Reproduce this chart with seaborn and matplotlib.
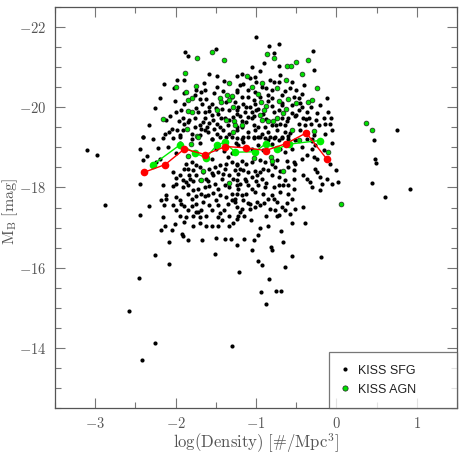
import matplotlib
matplotlib.use("Agg")
import matplotlib.pyplot as plt
from matplotlib.ticker import MultipleLocator, FuncFormatter
from matplotlib.lines import Line2D
import seaborn as sns
import pandas as pd

# KISS star-forming galaxies: (log density, M_B)
sfg_points = [
    # outliers, left and bottom
    (-3.10, -18.94), (-2.98, -18.80), (-2.88, -17.57), (-2.58, -14.92), (-2.45, -15.74),
    (-2.42, -13.69), (-2.26, -14.12), (-2.26, -16.31), (-2.08, -16.08), (-1.30, -14.04),
    # outliers, right
    (0.75, -19.44), (0.91, -17.96), (0.60, -17.77), (0.44, -18.12), (0.47, -19.18),
    (0.48, -18.70), (0.49, -18.61), (0.00, -18.43), (0.02, -18.13), (-0.19, -16.26),
    # upper left part
    (-1.88, -21.37), (-1.84, -21.27), (-1.50, -21.44), (-1.58, -20.84), (-1.48, -20.79),
    (-1.98, -20.68), (-1.90, -20.68), (-2.15, -20.57), (-2.02, -20.49), (-1.74, -20.44),
    (-1.69, -20.38), (-1.63, -20.42), (-1.48, -20.51), (-1.41, -20.41), (-1.24, -20.39),
    (-2.20, -20.22), (-1.76, -20.30), (-1.70, -20.21), (-2.01, -20.15), (-1.90, -20.08),
    (-2.26, -19.98), (-1.67, -20.08), (-1.59, -20.00), (-1.55, -20.09), (-1.75, -19.99),
    (-1.93, -19.93), (-1.99, -19.88), (-1.72, -19.88), (-1.64, -19.88), (-1.50, -19.99),
    (-2.07, -19.79), (-1.91, -19.74), (-1.83, -19.69), (-1.76, -19.74), (-1.63, -19.74),
    (-1.55, -19.80), (-2.12, -19.68), (-1.96, -19.65), (-1.89, -19.59), (-1.53, -19.69),
    (-1.49, -19.59), (-1.70, -19.55), (-2.33, -19.55), (-2.04, -19.47), (-2.08, -19.38),
    (-1.98, -19.43), (-1.91, -19.43), (-1.76, -19.51), (-1.64, -19.43), (-1.61, -19.51),
    (-2.13, -19.34), (-1.95, -19.30), (-1.80, -19.34), (-1.70, -19.30), (-2.40, -19.26),
    (-2.28, -19.22), (-2.03, -19.24), (-1.49, -19.34), (-1.41, -19.43), (-1.37, -19.26),
    (-1.33, -19.34), (-1.24, -19.51), (-1.47, -19.84), (-1.33, -19.93), (-1.28, -19.76),
    (-1.38, -19.74), (-1.33, -19.68), (-1.24, -19.84), (-1.22, -20.01), (-1.30, -20.26),
    (-1.37, -20.13), (-1.26, -20.13), (-1.58, -19.61), (-1.43, -19.72), (-1.45, -19.51),
    (-1.30, -19.26), (-1.55, -19.22), (-1.80, -19.22), (-1.66, -19.63), (-1.60, -19.38),
    (-1.85, -19.62), (-1.68, -19.45), (-1.58, -19.90), (-1.52, -19.45), (-1.42, -19.95),
    (-1.35, -19.55), (-1.90, -20.35), (-1.62, -20.20), (-1.52, -20.35), (-1.40, -20.65),
    (-1.65, -20.60),
    # upper right part
    (-1.00, -21.74), (-0.84, -21.53), (-0.72, -21.58), (-0.29, -21.40), (-0.71, -21.03),
    (-0.28, -20.93), (-1.23, -20.78), (-1.17, -20.82), (-1.08, -20.72), (-1.01, -20.76),
    (-1.16, -20.59), (-1.00, -20.63), (-0.83, -20.68), (-0.78, -20.63), (-0.71, -20.63),
    (-1.24, -20.44), (-1.10, -20.44), (-1.01, -20.38), (-0.87, -20.47), (-0.80, -20.43),
    (-0.58, -20.47), (-0.50, -20.43), (-0.64, -20.41), (-0.43, -20.34), (-0.12, -20.24),
    (-1.18, -20.26), (-1.10, -20.26), (-1.03, -20.18), (-0.85, -20.30), (-0.80, -20.22),
    (-0.68, -20.30), (-0.53, -20.26), (-0.47, -20.22), (-1.16, -20.09), (-1.08, -20.01),
    (-1.01, -20.08), (-0.80, -20.03), (-0.68, -20.05), (-0.55, -20.05), (-0.43, -20.01),
    (-0.20, -20.05), (-1.23, -19.93), (-1.14, -19.88), (-1.05, -19.88), (-1.00, -19.94),
    (-0.78, -19.88), (-0.72, -19.93), (-0.55, -19.86), (-0.47, -19.93), (-0.37, -19.88),
    (-0.24, -19.86), (-0.10, -19.88), (-1.20, -19.78), (-1.10, -19.76), (-1.02, -19.78),
    (-0.68, -19.72), (-0.60, -19.74), (-0.51, -19.78), (-0.41, -19.72), (-0.34, -19.74),
    (-0.16, -19.72), (-0.07, -19.74), (-0.14, -19.59), (-0.25, -19.69), (-1.12, -19.63),
    (-1.03, -19.55), (-0.97, -19.51), (-0.89, -19.51), (-0.80, -19.55), (-0.70, -19.59),
    (-0.64, -19.55), (-0.47, -19.59), (-0.39, -19.55), (-0.31, -19.59), (-0.08, -19.57),
    (-1.24, -19.43), (-1.10, -19.38), (-1.01, -19.43), (-0.93, -19.34), (-0.85, -19.38),
    (-0.74, -19.43), (-0.64, -19.38), (-0.45, -19.43), (-0.37, -19.38), (-0.14, -19.34),
    (-0.05, -19.43), (-1.16, -19.26), (-1.03, -19.26), (-0.89, -19.24), (-0.76, -19.26),
    (-0.68, -19.24), (-0.60, -19.28), (-0.30, -19.22), (-0.95, -20.26), (-0.91, -19.84),
    (-0.74, -19.72), (-1.18, -19.51), (-0.97, -19.26), (-0.83, -19.26),
    (-1.18, -19.65), (-1.12, -20.00), (-1.05, -19.72), (-0.98, -19.95), (-0.88, -19.70),
    (-0.85, -20.15), (-0.75, -19.55), (-0.68, -20.10), (-0.62, -19.65), (-0.58, -19.35),
    (-0.50, -19.80), (-0.45, -20.10), (-0.38, -19.70), (-0.32, -20.00), (-0.28, -19.30),
    (-0.22, -19.55), (-1.20, -20.55), (-0.92, -20.50), (-0.70, -20.80), (-0.55, -20.62),
    (-0.40, -20.55), (-0.95, -20.90), (-1.05, -21.00), (-0.78, -21.35), (-0.90, -21.10),
    # lower left part
    (-2.40, -19.26), (-2.16, -19.23), (-1.95, -19.26), (-2.44, -18.95), (-2.22, -18.98),
    (-2.19, -18.70), (-2.41, -18.68), (-2.36, -18.78), (-2.24, -18.63), (-1.87, -18.59),
    (-1.80, -18.63), (-1.74, -18.57), (-1.85, -18.47), (-1.78, -18.43), (-1.70, -18.51),
    (-1.83, -18.32), (-1.74, -18.32), (-1.66, -18.38), (-1.58, -18.47), (-1.51, -18.51),
    (-1.45, -18.55), (-1.37, -18.59), (-1.30, -18.63), (-1.24, -18.59), (-2.03, -18.38),
    (-1.99, -18.23), (-1.95, -18.32), (-1.91, -18.18), (-1.87, -18.13), (-1.78, -18.15),
    (-1.70, -18.18), (-1.62, -18.22), (-1.53, -18.30), (-1.47, -18.38), (-1.41, -18.34),
    (-1.33, -18.30), (-1.26, -18.43), (-2.44, -18.09), (-2.16, -18.05), (-2.03, -18.03),
    (-1.99, -18.09), (-1.91, -18.01), (-1.85, -18.05), (-1.78, -17.93), (-1.72, -17.97),
    (-1.64, -18.01), (-1.58, -18.03), (-1.51, -18.09), (-1.47, -17.97), (-1.39, -18.05),
    (-1.33, -18.01), (-1.24, -18.05), (-2.12, -17.82), (-2.18, -17.68), (-2.12, -17.72),
    (-1.99, -17.76), (-1.85, -17.84), (-1.80, -17.72), (-1.74, -17.78), (-1.68, -17.84),
    (-1.60, -17.82), (-1.53, -17.87), (-1.45, -17.80), (-1.37, -17.76), (-1.30, -17.84),
    (-1.26, -17.72), (-2.33, -17.53), (-2.14, -17.55), (-2.03, -17.55), (-1.93, -17.59),
    (-1.89, -17.53), (-1.80, -17.53), (-1.74, -17.59), (-1.66, -17.63), (-1.58, -17.55),
    (-1.47, -17.55), (-1.35, -17.59), (-1.24, -17.51), (-1.99, -17.43), (-1.85, -17.43),
    (-1.74, -17.38), (-1.68, -17.43), (-1.55, -17.43), (-1.45, -17.37), (-2.44, -17.32),
    (-1.95, -17.30), (-1.87, -17.26), (-1.78, -17.30), (-1.70, -17.26), (-1.62, -17.30),
    (-1.47, -17.26), (-1.33, -17.30), (-1.22, -17.30), (-2.16, -17.26), (-2.13, -17.05),
    (-2.01, -17.09), (-1.89, -17.15), (-1.78, -17.05), (-1.70, -17.12), (-1.62, -17.05),
    (-1.55, -17.05), (-1.47, -17.05), (-1.33, -17.05), (-1.28, -17.12),
    (-2.10, -19.00), (-2.00, -18.85), (-1.95, -19.10), (-1.70, -19.10), (-1.55, -19.20),
    (-1.50, -18.95), (-1.45, -19.25), (-1.40, -18.90), (-1.30, -18.85), (-1.25, -19.10),
    (-1.55, -18.70), (-1.35, -18.75), (-1.90, -18.45), (-1.82, -18.20), (-1.60, -18.15),
    (-1.55, -18.35), (-1.42, -18.20), (-1.38, -18.45), (-1.28, -18.20), (-1.94, -17.68),
    (-1.72, -17.40), (-1.64, -17.78), (-1.50, -17.68), (-1.40, -17.45), (-1.30, -17.68),
    (-1.42, -17.18),
    # lower right part
    (-1.24, -19.23), (-1.18, -19.20), (-1.10, -19.26), (-1.03, -19.23), (-0.95, -19.26),
    (-0.85, -19.18), (-0.78, -19.23), (-0.72, -19.18), (-0.68, -19.26), (-0.60, -19.22),
    (-0.51, -19.18), (-0.37, -19.22), (-0.30, -19.15), (-0.16, -18.93), (-0.05, -19.12),
    (-1.24, -18.55), (-1.18, -18.65), (-1.12, -18.59), (-1.05, -18.63), (-0.95, -18.68),
    (-0.89, -18.63), (-0.80, -18.59), (-0.74, -18.68), (-0.62, -18.65), (-0.53, -18.63),
    (-0.43, -18.72), (-0.37, -18.80), (-0.28, -18.76), (-0.24, -18.72), (-1.22, -18.34),
    (-1.16, -18.43), (-1.10, -18.38), (-1.01, -18.40), (-0.91, -18.47), (-0.85, -18.43),
    (-0.76, -18.51), (-0.60, -18.51), (-0.53, -18.43), (-0.51, -18.59), (-0.41, -18.32),
    (-0.26, -18.47), (-0.24, -18.38), (-0.08, -18.59), (-1.24, -18.18), (-1.14, -18.22),
    (-1.05, -18.26), (-0.99, -18.30), (-0.93, -18.22), (-0.80, -18.30), (-0.72, -18.26),
    (-0.64, -18.18), (-0.53, -18.22), (-0.37, -18.22), (-0.33, -18.13), (-0.20, -18.26),
    (-0.12, -18.22), (-1.22, -17.97), (-1.20, -18.09), (-1.10, -18.05), (-1.05, -17.97),
    (-0.97, -18.05), (-0.89, -18.01), (-0.78, -18.01), (-0.72, -18.05), (-0.60, -18.05),
    (-0.53, -17.97), (-0.30, -18.01), (-0.18, -18.09), (-1.23, -17.84), (-1.18, -17.80),
    (-1.12, -17.84), (-1.01, -17.88), (-0.91, -17.84), (-0.80, -17.80), (-0.78, -17.72),
    (-0.70, -17.88), (-0.60, -17.84), (-0.20, -17.93), (-0.05, -18.09), (-1.26, -17.63),
    (-1.16, -17.68), (-1.08, -17.59), (-0.99, -17.63), (-0.95, -17.55), (-0.85, -17.72),
    (-0.74, -17.63), (-0.68, -17.51), (-0.55, -17.72), (-0.41, -17.51), (-1.18, -17.47),
    (-1.08, -17.47), (-1.01, -17.51), (-0.83, -17.47), (-0.76, -17.43), (-0.72, -17.32),
    (-0.64, -17.43), (-0.58, -17.34), (-0.51, -17.47), (-1.15, -17.30), (-1.23, -17.22),
    (-0.74, -17.30), (-0.55, -17.12), (-0.39, -17.11), (-0.85, -17.05), (-0.95, -16.98),
    (-1.22, -19.05), (-1.16, -19.13), (-1.05, -18.97), (-0.97, -19.05), (-0.91, -18.93),
    (-0.80, -19.09), (-0.70, -18.97), (-0.64, -18.88), (-0.55, -18.97), (-0.43, -19.01),
    (-0.30, -18.97), (-0.26, -19.05), (-1.20, -18.45), (-1.12, -18.15), (-1.00, -18.15),
    (-0.95, -18.38), (-0.87, -18.12), (-0.70, -18.40), (-0.66, -18.05), (-1.10, -17.62),
    (-0.90, -17.60), (-0.88, -17.30), (-0.62, -17.60), (-1.06, -17.20), (-1.20, -17.40),
    # faint tail
    (-2.18, -16.95), (-2.05, -16.95), (-2.08, -16.63), (-1.92, -16.85), (-1.91, -16.78),
    (-1.85, -16.70), (-1.67, -16.68), (-1.50, -16.74), (-1.38, -16.71), (-1.31, -16.71),
    (-1.23, -16.56), (-1.15, -16.71), (-1.03, -16.70), (-0.97, -16.82), (-1.05, -16.45),
    (-1.51, -16.33), (-1.21, -15.88), (-0.97, -16.16), (-0.93, -16.06), (-0.84, -15.71),
    (-0.94, -15.39), (-0.88, -15.10), (-0.75, -15.43), (-0.69, -15.43), (-0.81, -16.51),
    (-0.80, -16.44), (-0.66, -16.63), (-0.64, -16.02), (-0.55, -16.29), (-0.69, -16.91),
]

# KISS AGN
agn_points = [
    (-1.73, -21.23), (-1.55, -21.38), (-1.40, -21.18), (-1.88, -20.85), (-1.33, -20.60),
    (-1.75, -20.54), (-1.99, -20.51), (-1.87, -20.37), (-1.80, -20.24), (-1.84, -20.18),
    (-1.45, -20.23), (-1.36, -20.30), (-1.30, -20.29), (-1.43, -20.13), (-1.33, -20.17),
    (-1.48, -19.93), (-1.85, -19.90), (-1.79, -19.89), (-1.28, -20.01), (-2.16, -19.71),
    (-1.37, -19.69), (-1.27, -19.66), (-1.26, -19.55), (-1.28, -19.38), (-1.86, -19.46),
    (-1.73, -19.28), (-0.86, -21.33), (-0.78, -21.23), (-0.61, -21.02), (-0.57, -21.03),
    (-0.50, -21.12), (-0.35, -21.17), (-1.11, -20.78), (-0.43, -20.84), (-0.63, -20.68),
    (-0.92, -20.61), (-1.05, -20.51), (-0.98, -20.34), (-0.74, -20.47), (-0.24, -20.48),
    (-0.60, -20.20), (-0.94, -20.12), (-0.88, -20.03), (-0.72, -20.16), (-0.50, -20.10),
    (-0.35, -20.14), (-0.30, -20.18), (-0.90, -19.92), (-0.63, -19.96), (-0.66, -19.86),
    (-0.95, -19.81), (-0.74, -19.72), (-0.93, -19.68), (-0.85, -19.66), (-0.79, -19.66),
    (-1.18, -19.55), (-0.28, -19.40), (-0.55, -19.43), (-1.81, -19.08), (-1.72, -19.26),
    (-1.66, -18.42), (-1.69, -18.18), (-1.33, -18.11), (-1.84, -18.78), (-1.02, -18.73),
    (-0.81, -18.75), (-0.80, -18.65), (-0.67, -18.42), (-0.10, -18.88), (0.06, -17.59),
    (-0.47, -19.18), (0.37, -19.60), (0.44, -19.43),
]

# binned curves
red_x = [-2.39, -2.13, -1.89, -1.63, -1.38, -1.13, -0.88, -0.63, -0.375, -0.12]
red_y = [-18.38, -18.57, -18.96, -18.82, -19.02, -18.99, -18.92, -19.09, -19.36, -18.71]
green_x = [-2.28, -1.94, -1.76, -1.62, -1.49, -1.39, -1.26, -1.01, -0.88, -0.74, -0.59, -0.21]
green_y = [-18.57, -19.07, -18.86, -18.74, -19.05, -19.13, -18.88, -18.89, -19.09, -18.96, -19.08, -19.17]

sfg = pd.DataFrame(sfg_points, columns=["logd", "mb"])
agn = pd.DataFrame(agn_points, columns=["logd", "mb"])
red = pd.DataFrame({"logd": red_x, "mb": red_y})
grn = pd.DataFrame({"logd": green_x, "mb": green_y})

sns.set_style("ticks")
plt.rcParams["mathtext.fontset"] = "cm"
txt = "#555555"

fig = plt.figure(figsize=(4.64, 4.54), dpi=100)
ax = fig.add_axes([0.1185, 0.1013, 0.8664, 0.8833])

sns.scatterplot(data=sfg, x="logd", y="mb", ax=ax, color="black", s=9, linewidth=0, zorder=2)
sns.scatterplot(data=agn, x="logd", y="mb", ax=ax, color="#00e000", s=12,
                edgecolor="#222222", linewidth=0.5, zorder=3)
sns.lineplot(data=grn, x="logd", y="mb", ax=ax, sort=False, color="#00ee00", lw=1,
             marker="o", ms=5.5, mec="none", zorder=4)
sns.lineplot(data=red, x="logd", y="mb", ax=ax, sort=False, color="#ff0000", lw=1,
             marker="o", ms=5.5, mec="none", zorder=5)

ax.set_xlim(-3.5, 1.5)
ax.set_ylim(-12.5, -22.5)
ax.xaxis.set_major_locator(MultipleLocator(1))
ax.xaxis.set_minor_locator(MultipleLocator(0.5))
ax.yaxis.set_major_locator(MultipleLocator(2))
ax.yaxis.set_minor_locator(MultipleLocator(0.5))
fmt = FuncFormatter(lambda v, _: "$%d$" % round(v))
ax.xaxis.set_major_formatter(fmt)
ax.yaxis.set_major_formatter(fmt)
ax.tick_params(which="both", direction="in", top=True, right=True, colors="#777777",
               labelcolor=txt, labelsize=10.5, width=0.8)
ax.tick_params(which="major", length=7, pad=6)
ax.tick_params(which="minor", length=4)
for sp in ax.spines.values():
    sp.set_color("#555555")
    sp.set_linewidth(0.9)

ax.set_xlabel(r"$\mathrm{log(Density)\ [\#/Mpc^{3}]}$", color=txt, fontsize=12, labelpad=0)
ax.set_ylabel(r"$\mathrm{M_{B}\ [mag]}$", color=txt, fontsize=11.5)
ax.yaxis.set_label_coords(-0.088, 0.49)

handles = [
    Line2D([], [], ls="none", marker="o", ms=3, color="black", mec="none"),
    Line2D([], [], ls="none", marker="o", ms=3.8, color="#00e000", mec="#222222", mew=0.5),
]
leg = ax.legend(handles, ["KISS SFG", "KISS AGN"], loc="lower left",
                bbox_to_anchor=(0.6816, 0.0, 0.3184, 0.149), mode="expand",
                borderaxespad=0, frameon=True, fancybox=False, handlelength=0.6,
                handletextpad=0.7, borderpad=1.0, labelspacing=0.55,
                prop={"family": "Liberation Sans", "size": 9})
leg.get_frame().set_edgecolor("#555555")
leg.get_frame().set_linewidth(0.9)
for t in leg.get_texts():
    t.set_color("#222222")

fig.savefig("out.png", dpi=100)
